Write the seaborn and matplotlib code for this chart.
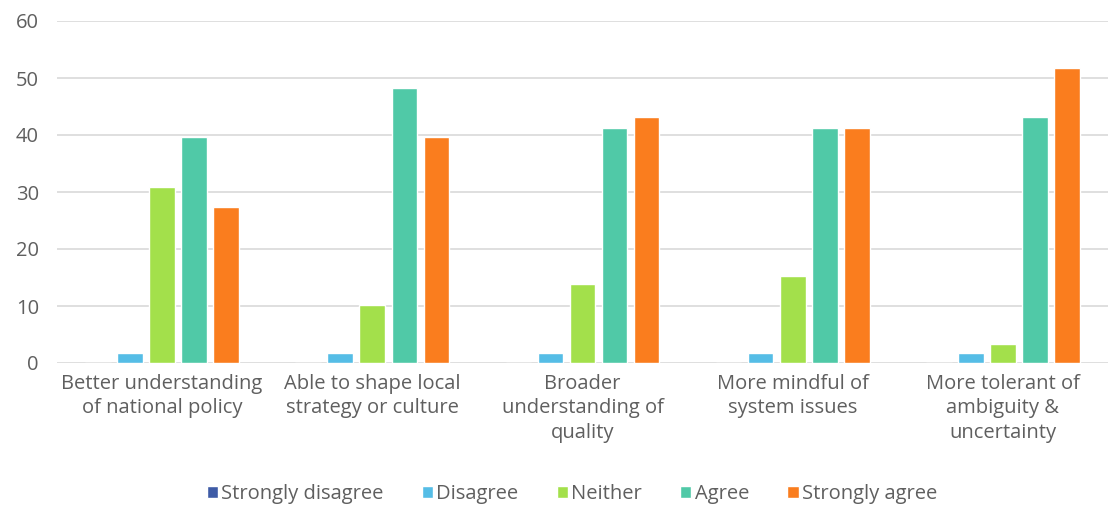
import matplotlib
matplotlib.use("Agg")
import matplotlib.pyplot as plt
import seaborn as sns
import pandas as pd

categories = [
    "Better understanding\nof national policy",
    "Able to shape local\nstrategy or culture",
    "Broader\nunderstanding of\nquality",
    "More mindful of\nsystem issues",
    "More tolerant of\nambiguity &\nuncertainty",
]
responses = ["Strongly disagree", "Disagree", "Neither", "Agree", "Strongly agree"]
strongly_disagree = [0, 0, 0, 0, 0]
disagree = [1.7, 1.7, 1.7, 1.7, 1.7]
neither = [30.8, 10.2, 13.8, 15.3, 3.4]
agree = [39.6, 48.2, 41.3, 41.3, 43.1]
strongly_agree = [27.4, 39.6, 43.1, 41.3, 51.7]
colors = ["#3E5BA6", "#55BDE6", "#A3E04B", "#50C9A7", "#FA7D1E"]

series = [strongly_disagree, disagree, neither, agree, strongly_agree]
rows = []
for resp, vals in zip(responses, series):
    for cat, v in zip(categories, vals):
        rows.append({"Category": cat, "Response": resp, "Value": v})
df = pd.DataFrame(rows)

sns.set_theme(style="white")
plt.rcParams["font.family"] = ["Open Sans", "DejaVu Sans"]

fig = plt.figure(figsize=(11.1, 5.21), dpi=100)
ax = fig.add_axes([57 / 1110, 1 - 363 / 521, 1051 / 1110, 342 / 521])

sns.barplot(data=df, x="Category", y="Value", hue="Response",
            order=categories, hue_order=responses, palette=colors,
            width=0.763, gap=0.2, saturation=1, ax=ax, legend=True)

ax.set_ylim(0, 60)
ax.set_yticks(range(0, 61, 10))
ax.set_xlim(-0.5, len(categories) - 0.5)
ax.yaxis.grid(True, color="#D9D9D9", linewidth=1.2)
ax.set_axisbelow(True)
for s in ax.spines.values():
    s.set_visible(False)
ax.set_xlabel("")
ax.set_ylabel("")
ax.tick_params(axis="both", length=0, colors="#5F5F5F", labelsize=14.5)
ax.tick_params(axis="x", pad=8)
for lbl in ax.get_xticklabels():
    lbl.set_linespacing(1.28)
ax.tick_params(axis="y", pad=13)

handles, labels = ax.get_legend_handles_labels()
ax.legend(handles, labels, loc="center", bbox_to_anchor=(0.49, -0.383),
          ncol=5, frameon=False, fontsize=14.5, handlelength=0.55,
          handleheight=0.55, handletextpad=0.17, columnspacing=1.9,
          labelcolor="#5F5F5F")

fig.savefig("out.png", dpi=100, facecolor="white")
